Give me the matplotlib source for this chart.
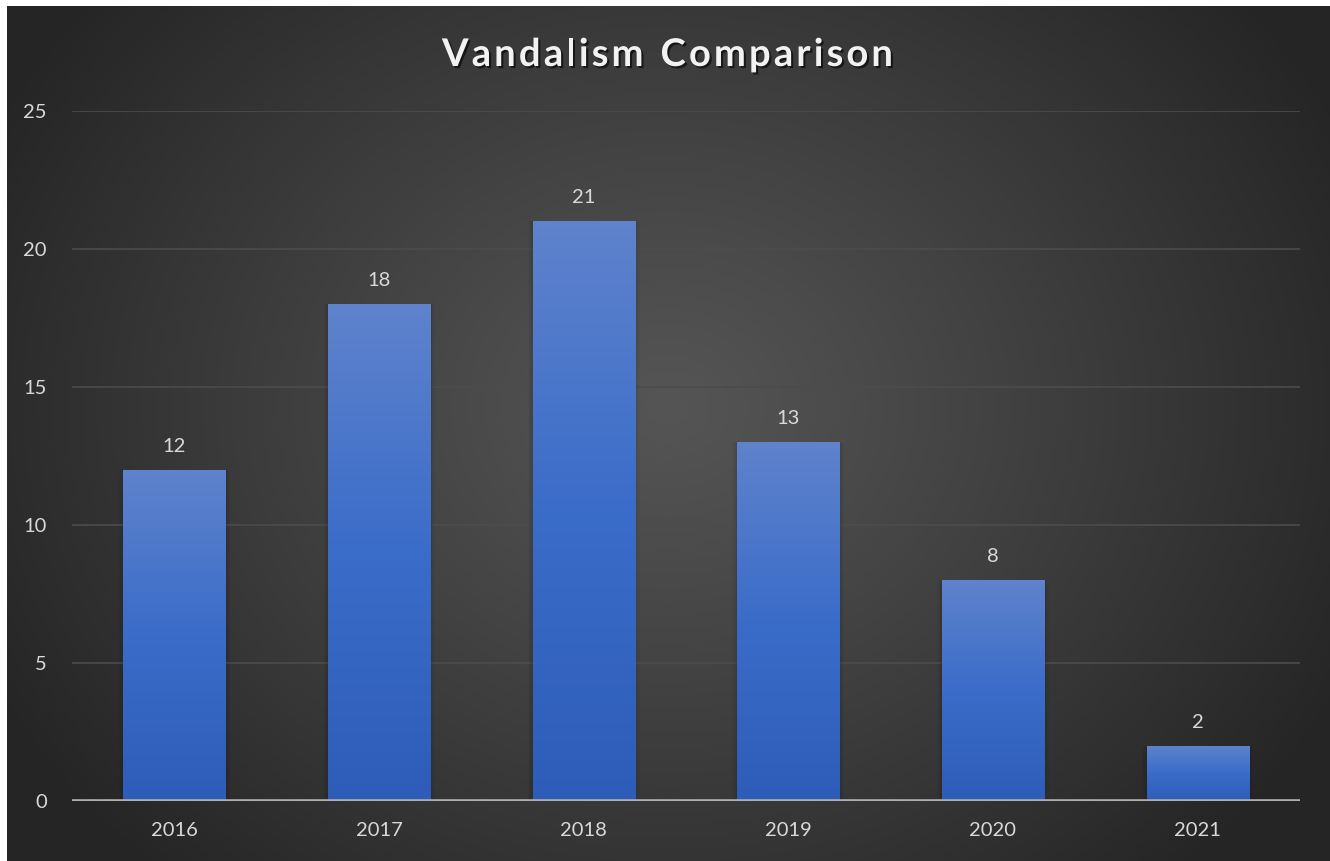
import numpy as np
import matplotlib
matplotlib.use('Agg')
import matplotlib.pyplot as plt
from matplotlib.patches import Rectangle
from matplotlib.colors import LinearSegmentedColormap
import matplotlib.patheffects as pe

# ---------------- data ----------------
years = ['2016', '2017', '2018', '2019', '2020', '2021']
counts = [12, 18, 21, 13, 8, 2]
yticks = [0, 5, 10, 15, 20, 25]
title = 'Vandalism Comparison'

W, H = 1330, 861
FONT = 'Lato'
TXT = '#d9d9d9'

fig = plt.figure(figsize=(W / 100, H / 100), dpi=100, facecolor='white')

# ---------------- dark radial background ----------------
bx0, by0 = 7, 6  # white margin left/top (pixels)
bg = fig.add_axes([bx0 / W, 0, (W - bx0) / W, (H - by0) / H])
bg.set_axis_off()
gw, gh = W - bx0, H - by0
yy, xx = np.mgrid[0:gh, 0:gw]
cx, cy = 660, 400
r = np.sqrt(((xx - cx) / 760.0) ** 2 + ((yy - cy) / 640.0) ** 2)
r = np.clip(r, 0, 1)
inner = np.array([0x55, 0x55, 0x55]) / 255.0
outer = np.array([0x25, 0x25, 0x25]) / 255.0
t = r[..., None] ** 1.1
img = inner * (1 - t) + outer * t
bg.imshow(img, extent=[0, gw, gh, 0], aspect='auto', interpolation='bilinear')
bg.set_xlim(0, gw)
bg.set_ylim(gh, 0)

# ---------------- main axes ----------------
left_px, right_px = 72, 1300
top_px, bot_px = 111, 801
ax = fig.add_axes([left_px / W, (H - bot_px) / H, (right_px - left_px) / W, (bot_px - top_px) / H])
ax.patch.set_alpha(0)
ax.set_xlim(-0.5, len(years) - 0.5)
ax.set_ylim(0, 25)
for s in ax.spines.values():
    s.set_visible(False)

ax.set_yticks(yticks)
ax.set_yticklabels([str(v) for v in yticks])
for v in yticks[1:]:
    ax.axhline(v, color='#4c4c4c', lw=1.2, zorder=1)
ax.axhline(0, color='#b0b0b0', lw=2.6, zorder=5)

x = np.arange(len(years))
ax.set_xticks(x)
ax.set_xticklabels(years)
ax.tick_params(axis='both', length=0, colors=TXT, labelsize=14.5)
ax.tick_params(axis='x', pad=15)
ax.tick_params(axis='y', pad=18)
for lab in ax.get_xticklabels() + ax.get_yticklabels():
    lab.set_fontfamily(FONT)
    lab.set_color(TXT)

bar_cmap = LinearSegmentedColormap.from_list('barg', ['#2d5db8', '#3a6cc9', '#5f83cc'])
grad = np.linspace(0, 1, 256).reshape(-1, 1)
width = 0.5
bars = ax.bar(x, counts, width=width, color='none', edgecolor='none', lw=0, zorder=3)
for b, val in zip(bars, counts):
    bx, bw, bh = b.get_x(), b.get_width(), b.get_height()
    # soft side shadow
    for k, a in enumerate([0.06, 0.04, 0.025]):
        pad = 0.008 * (k + 1)
        ax.add_patch(Rectangle((bx - pad, 0), bw + 2 * pad, bh, color='black',
                               alpha=a, lw=0, zorder=2))
    im = ax.imshow(grad, extent=[bx, bx + bw, 0, bh], origin='lower', cmap=bar_cmap,
                   aspect='auto', zorder=3, interpolation='bilinear')
    im.set_clip_path(b)
    ax.annotate(str(val), (b.get_x() + bw / 2, bh), xytext=(0, 11), textcoords='offset points',
                ha='center', va='bottom', color=TXT, fontsize=14.5, family=FONT, zorder=6)
ax.set_xlim(-0.5, len(years) - 0.5)
ax.set_ylim(0, 25)

# ---------------- title with letter spacing ----------------
fig.canvas.draw()
renderer = fig.canvas.get_renderer()
tsize = 27.5
tx0, tx1 = 442, 893
ty = H - 66  # baseline in pixels from bottom
widths = []
for ch in title:
    tt = fig.text(0, 0, ch if ch != ' ' else 'n', fontsize=tsize, family=FONT, weight='bold')
    bb = tt.get_window_extent(renderer)
    widths.append(bb.width if ch != ' ' else bb.width * 0.5)
    tt.remove()
total = sum(widths)
spacing = (tx1 - tx0 - total) / (len(title) - 1)
xpos = tx0
shadow = [pe.withSimplePatchShadow(offset=(1.5, -1.5), shadow_rgbFace='black', alpha=0.6)]
for ch, wch in zip(title, widths):
    if ch != ' ':
        fig.text(xpos / W, ty / H, ch, fontsize=tsize, family=FONT, weight='bold',
                 color='#f2f2f2', ha='left', va='baseline', path_effects=shadow)
    xpos += wch + spacing

fig.savefig('out.png', dpi=100, facecolor='white')
